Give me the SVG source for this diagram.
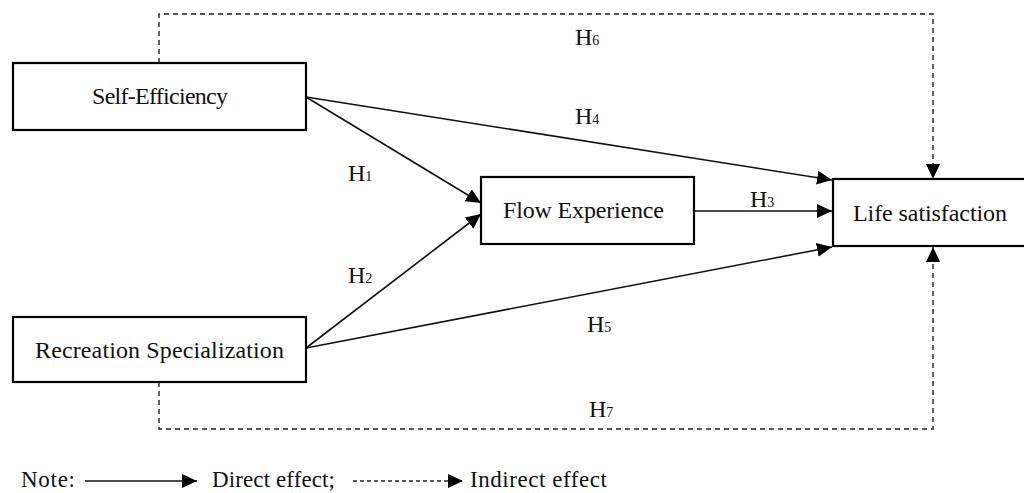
<svg xmlns="http://www.w3.org/2000/svg" width="1024" height="493" viewBox="0 0 1024 493">
<style>
.box{fill:#fff;stroke:#000;stroke-width:2.2}
.lbl{font-family:"Liberation Serif","Times New Roman",serif;font-size:24px;fill:#111}
.h{font-family:"Liberation Serif","Times New Roman",serif;font-size:24px;fill:#111}
.sub{font-size:14px}
.solid{fill:none;stroke:#111;stroke-width:1.6}
.dash{fill:none;stroke:#222;stroke-width:1.4;stroke-dasharray:5 4}
</style>
<defs>
<marker id="ah" markerUnits="userSpaceOnUse" markerWidth="16" markerHeight="14" refX="15" refY="7" orient="auto">
<path d="M0,0 L15,7 L0,14 Z" fill="#000"/>
</marker>
</defs>
<rect width="1024" height="493" fill="#fff"/>
<g id="connectors">
<path class="solid" d="M306,97 L481,203" marker-end="url(#ah)"/>
<path class="solid" d="M306,348 L481,214" marker-end="url(#ah)"/>
<path class="solid" d="M306,97 L832,180" marker-end="url(#ah)"/>
<path class="solid" d="M694,211 L832,211" marker-end="url(#ah)"/>
<path class="solid" d="M306,348 L832,247" marker-end="url(#ah)"/>
<path class="dash" d="M159,63 V14 H933 V179" marker-end="url(#ah)"/>
<path class="dash" d="M159,382 V429 H933 V247" marker-end="url(#ah)"/>
<text class="h" x="348" y="181">H<tspan class="sub">1</tspan></text>
<text class="h" x="348" y="283">H<tspan class="sub">2</tspan></text>
<text class="h" x="750" y="207">H<tspan class="sub">3</tspan></text>
<text class="h" x="575" y="124">H<tspan class="sub">4</tspan></text>
<text class="h" x="587" y="332">H<tspan class="sub">5</tspan></text>
<text class="h" x="575" y="45">H<tspan class="sub">6</tspan></text>
<text class="h" x="589" y="417">H<tspan class="sub">7</tspan></text>
</g>
<g id="node-self-efficiency">
<rect class="box" x="13" y="63" width="293" height="67"/>
<text class="lbl" x="160" y="104" text-anchor="middle" textLength="136">Self-Efficiency</text>
</g>
<g id="node-recreation">
<rect class="box" x="13" y="317" width="293" height="65"/>
<text class="lbl" x="159.5" y="358" text-anchor="middle" textLength="249">Recreation Specialization</text>
</g>
<g id="node-flow">
<rect class="box" x="481" y="177" width="213" height="67"/>
<text class="lbl" x="583.5" y="218" text-anchor="middle" textLength="161">Flow Experience</text>
</g>
<g id="node-life">
<rect class="box" x="833" y="179" width="200" height="67"/>
<text class="lbl" x="930" y="221" text-anchor="middle" textLength="154">Life satisfaction</text>
</g>
<g id="legend">
<text class="lbl" x="21" y="487" style="font-size:23px" textLength="54">Note:</text>
<path class="solid" d="M85,481 L197,481" marker-end="url(#ah)"/>
<text class="lbl" x="212" y="487" style="font-size:23px" textLength="123">Direct effect;</text>
<path class="dash" d="M353,481 L463,481" style="stroke-dasharray:4 3" marker-end="url(#ah)"/>
<text class="lbl" x="470" y="487" style="font-size:23px" textLength="137">Indirect effect</text>
</g>
</svg>
